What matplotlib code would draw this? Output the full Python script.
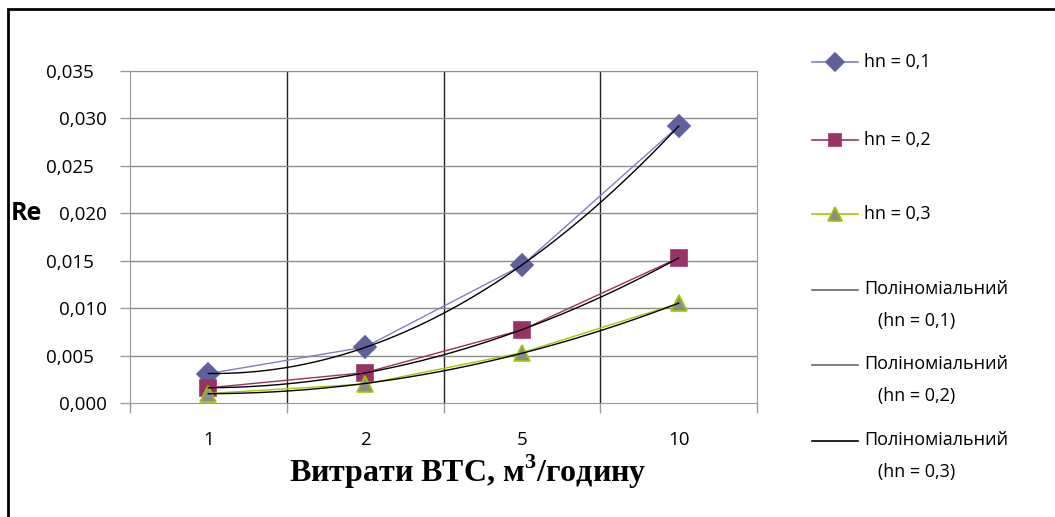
import matplotlib.pyplot as plt
from matplotlib.lines import Line2D
from matplotlib.patches import Rectangle
import matplotlib.transforms as mtransforms
import numpy as np

categories = ["1", "2", "5", "10"]
hn_01 = [0.0031, 0.0059, 0.0145, 0.0292]
hn_02 = [0.0016, 0.0032, 0.0077, 0.0153]
hn_03 = [0.0010, 0.0020, 0.0053, 0.0105]
series_labels = ["hn = 0,1", "hn = 0,2", "hn = 0,3"]
trend_labels = ["Поліноміальний\n   (hn = 0,1)", "Поліноміальний\n   (hn = 0,2)",
                "Поліноміальний\n   (hn = 0,3)"]
y_ticks = [0.0, 0.005, 0.010, 0.015, 0.020, 0.025, 0.030, 0.035]

plt.rcParams['font.family'] = ['Open Sans', 'DejaVu Sans']
plt.rcParams['mathtext.fontset'] = 'custom'
plt.rcParams['mathtext.bf'] = 'Liberation Serif:bold'
plt.rcParams['mathtext.rm'] = 'Liberation Serif:bold'

fig = plt.figure(figsize=(10.55, 5.17), dpi=100)
ax = fig.add_axes([130 / 1055, 1 - 403 / 517, 627 / 1055, 332 / 517])

x = np.arange(1, len(categories) + 1)
styles = [
    dict(line='#8080c0', marker='D', mfc='#60609a', mec='#60609a', ms=11.5),
    dict(line='#993366', marker='s', mfc='#993366', mec='#993366', ms=11),
    dict(line='#99cc00', marker='^', mfc='#8c8c8c', mec='#99cc00', ms=12),
]
series = [hn_01, hn_02, hn_03]

for vals, st in zip(series, styles):
    ax.plot(x, vals, color=st['line'], lw=1.0, marker=st['marker'],
            markerfacecolor=st['mfc'], markeredgecolor=st['mec'],
            markersize=st['ms'], markeredgewidth=1.2, zorder=3)

# second order polynomial trend lines
xs = np.linspace(1, 4, 200)
for vals in series:
    coef = np.polyfit(x, vals, 2)
    ax.plot(xs, np.polyval(coef, xs), color='black', lw=1.0, zorder=4)

ax.set_xlim(0.5, 4.5)
ax.set_ylim(0, 0.035)
ax.set_yticks(y_ticks)
ax.set_yticklabels([f"{v:.3f}".replace('.', ',') for v in y_ticks], fontsize=13.5)
ax.set_xticks(x)
ax.set_xticklabels(categories, fontsize=13.5)
ax.tick_params(axis='x', length=0, pad=20)
ax.tick_params(axis='y', length=7, color='#999999', width=1, pad=9.5)

# labels ending in 5 sit a little further left
shift = mtransforms.ScaledTranslation(-13 / 100, 0, fig.dpi_scale_trans)
for lbl, v in zip(ax.get_yticklabels(), y_ticks):
    if round(v * 1000) % 10 == 5:
        lbl.set_transform(lbl.get_transform() + shift)

# category boundaries
ax.set_xticks(np.arange(0.5, 4.6, 1), minor=True)
ax.tick_params(axis='x', which='minor', length=7, color='#999999', width=1)
for b in [1.5, 2.5, 3.5]:
    ax.axvline(b, color='#222222', lw=1.0, zorder=1)
for v in y_ticks[1:]:
    ax.axhline(v, color='#8c8c8c', lw=1.0, zorder=1)

for s in ['left', 'right', 'bottom']:
    ax.spines[s].set_color('#999999')
ax.spines['top'].set_visible(False)

fig.text(11 / 1055, 1 - 213 / 517, "Re", fontsize=18, fontweight='bold',
         va='center', ha='left')
fig.text(468 / 1055, 1 - 472 / 517, "Витрати ВТС, м$^{\\mathbf{3}}$/годину",
         family='Liberation Serif', fontsize=23, fontweight='bold',
         ha='center', va='center')

# legend on the right
leg_y = [62, 140, 214]
for yy, st, lab in zip(leg_y, styles, series_labels):
    yf = 1 - yy / 517
    fig.add_artist(Line2D([812 / 1055, 858 / 1055], [yf, yf], color=st['line'], lw=1.2))
    fig.add_artist(Line2D([835 / 1055], [yf], marker=st['marker'], color=st['mfc'],
                          markeredgecolor=st['mec'], markersize=st['ms'] * 0.8,
                          markeredgewidth=1.2))
    fig.text(864 / 1055, yf, lab, fontsize=13, va='center', ha='left')

trend_y = [290, 365, 441]
trend_colors = ['#666666', '#666666', '#000000']
for yy, c, lab in zip(trend_y, trend_colors, trend_labels):
    yf = 1 - yy / 517
    fig.add_artist(Line2D([812 / 1055, 858 / 1055], [yf, yf], color=c, lw=1.2))
    fig.text(864 / 1055, yf + 10 / 517, lab, fontsize=13, va='top', ha='left',
             linespacing=2.0)

# outer frame of the chart
fig.add_artist(Rectangle((8 / 1055, -0.02), 1.1, 1 - 9 / 517 + 0.02, fill=False,
                         edgecolor='black', lw=2, transform=fig.transFigure))

fig.savefig('out.png', dpi=100)
